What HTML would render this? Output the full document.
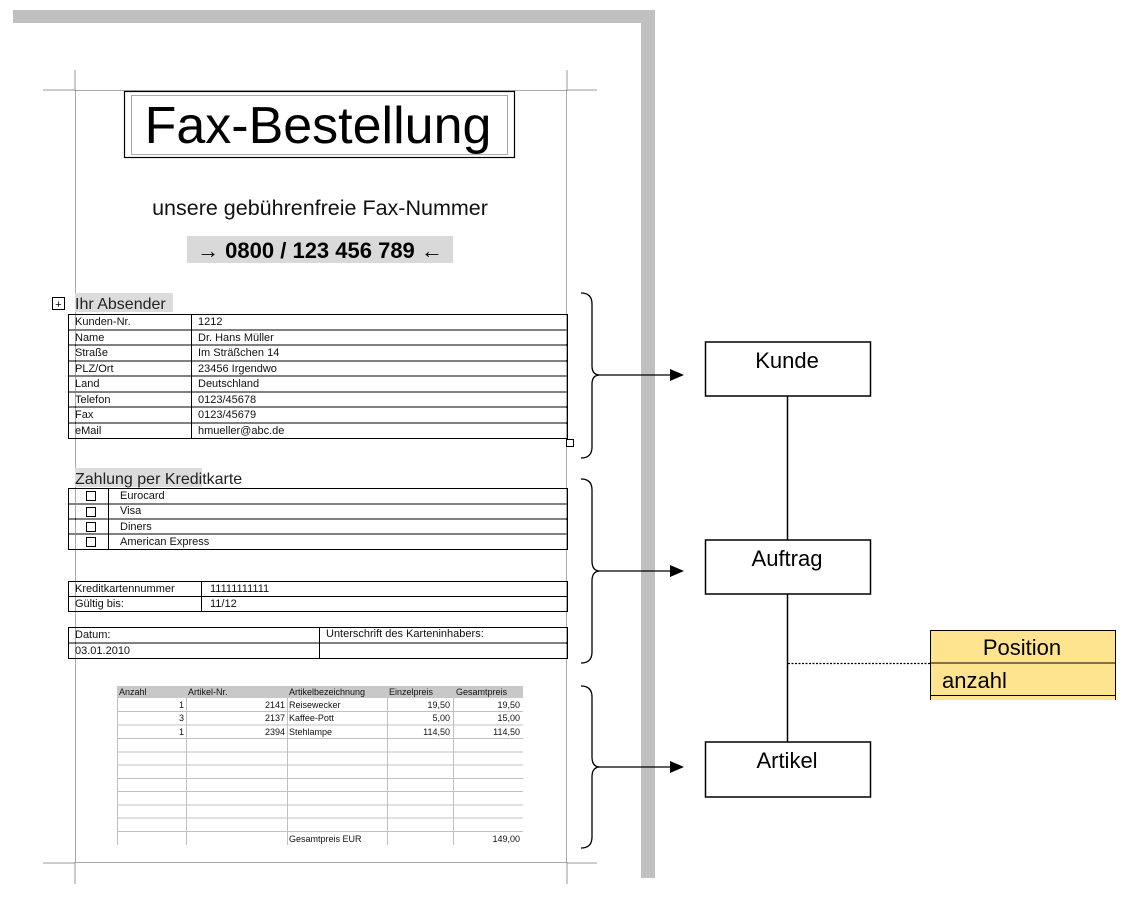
<!DOCTYPE html>
<html><head><meta charset="utf-8"><style>
html,body{margin:0;padding:0;background:#fff;}
svg{display:block;font-family:"Liberation Sans",Arial,sans-serif;}
</style></head><body>
<svg width="1134" height="900" viewBox="0 0 1134 900" xmlns="http://www.w3.org/2000/svg">
<rect x="13" y="10" width="642" height="13" fill="#c0c0c0"/>
<rect x="641" y="10" width="14" height="868" fill="#c0c0c0"/>
<g stroke="#999" stroke-width="1">
<line x1="75" y1="70" x2="75" y2="91"/><line x1="43" y1="90" x2="75" y2="90"/>
<line x1="567" y1="70" x2="567" y2="91"/><line x1="567" y1="90" x2="597" y2="90"/>
<line x1="75" y1="862" x2="75" y2="884"/><line x1="43" y1="863" x2="75" y2="863"/>
<line x1="567" y1="862" x2="567" y2="884"/><line x1="567" y1="863" x2="597" y2="863"/>
</g>
<rect x="75.5" y="90.5" width="491" height="772" fill="none" stroke="#555" stroke-width="1" stroke-dasharray="1,1"/>
<rect x="124.5" y="91.5" width="390" height="66" fill="#fff" stroke="#000" stroke-width="1.2"/>
<rect x="131.5" y="95.5" width="376" height="59" fill="none" stroke="#555" stroke-dasharray="1,1"/>
<text x="318" y="143" font-size="52" text-anchor="middle">Fax-Bestellung</text>
<text x="320" y="215" font-size="21.5" text-anchor="middle" fill="#111">unsere gebührenfreie Fax-Nummer</text>
<rect x="187" y="236" width="266" height="27" fill="#d9d9d9"/>
<text x="320" y="258" font-size="22" font-weight="bold" text-anchor="middle">→ 0800 / 123 456 789 ←</text>
<rect x="52.5" y="297.5" width="12" height="12" fill="#fff" stroke="#000"/>
<text x="58.5" y="308" font-size="11" text-anchor="middle">+</text>
<rect x="75" y="293" width="98" height="19" fill="#dcdcdc"/>
<text x="75" y="309" font-size="16" fill="#222">Ihr Absender</text>
<g stroke="#000" stroke-width="1" fill="none">
<rect x="68.5" y="314.5" width="499" height="124"/>
<line x1="68" y1="330" x2="568" y2="330"/><line x1="68" y1="345" x2="568" y2="345"/>
<line x1="68" y1="361" x2="568" y2="361"/><line x1="68" y1="376" x2="568" y2="376"/>
<line x1="68" y1="392" x2="568" y2="392"/><line x1="68" y1="407" x2="568" y2="407"/>
<line x1="68" y1="423" x2="568" y2="423"/>
<line x1="191.5" y1="314" x2="191.5" y2="438"/>
</g>
<g font-size="11" fill="#111">
<text x="75" y="325">Kunden-Nr.</text><text x="198" y="325">1212</text>
<text x="75" y="341">Name</text><text x="198" y="341">Dr. Hans Müller</text>
<text x="75" y="356">Straße</text><text x="198" y="356">Im Sträßchen 14</text>
<text x="75" y="372">PLZ/Ort</text><text x="198" y="372">23456 Irgendwo</text>
<text x="75" y="387">Land</text><text x="198" y="387">Deutschland</text>
<text x="75" y="403">Telefon</text><text x="198" y="403">0123/45678</text>
<text x="75" y="418">Fax</text><text x="198" y="418">0123/45679</text>
<text x="75" y="434">eMail</text><text x="198" y="434">hmueller@abc.de</text>
</g>
<rect x="566.5" y="439.5" width="7" height="7" fill="#fff" stroke="#000"/>
<rect x="75" y="468" width="127" height="19" fill="#dcdcdc"/>
<text x="75" y="484" font-size="16" fill="#222">Zahlung per Kreditkarte</text>
<g stroke="#000" stroke-width="1" fill="none">
<rect x="68.5" y="488.5" width="499" height="61"/>
<line x1="68" y1="504" x2="568" y2="504"/><line x1="68" y1="519" x2="568" y2="519"/>
<line x1="68" y1="534" x2="568" y2="534"/>
<line x1="108.5" y1="488" x2="108.5" y2="549"/>
<rect x="86.5" y="491.5" width="9" height="9"/><rect x="86.5" y="507.5" width="9" height="9"/>
<rect x="86.5" y="522.5" width="9" height="9"/><rect x="86.5" y="537.5" width="9" height="9"/>
<rect x="68.5" y="581.5" width="499" height="30"/><line x1="68" y1="596.5" x2="568" y2="596.5"/>
<line x1="201.5" y1="581" x2="201.5" y2="611"/>
<rect x="68.5" y="627.5" width="499" height="31"/><line x1="68" y1="643" x2="568" y2="643"/>
<line x1="319.5" y1="627" x2="319.5" y2="658"/>
</g>
<g font-size="11" fill="#111">
<text x="120" y="499">Eurocard</text><text x="120" y="514">Visa</text>
<text x="120" y="530">Diners</text><text x="120" y="545">American Express</text>
<text x="75" y="592">Kreditkartennummer</text><text x="210" y="592">11111111111</text>
<text x="75" y="607">Gültig bis:</text><text x="210" y="607">11/12</text>
<text x="75" y="638">Datum:</text><text x="326" y="637">Unterschrift des Karteninhabers:</text>
<text x="75" y="654">03.01.2010</text>
</g>
<rect x="117" y="686" width="406" height="12" fill="#c8c8c8"/>
<g stroke="#c0c0c0" stroke-width="1">
<line x1="117" y1="711.5" x2="523" y2="711.5"/><line x1="117" y1="725" x2="523" y2="725"/>
<line x1="117" y1="738.5" x2="523" y2="738.5"/><line x1="117" y1="752" x2="523" y2="752"/>
<line x1="117" y1="765" x2="523" y2="765"/><line x1="117" y1="778.5" x2="523" y2="778.5"/>
<line x1="117" y1="791.5" x2="523" y2="791.5"/><line x1="117" y1="805" x2="523" y2="805"/>
<line x1="117" y1="818" x2="523" y2="818"/><line x1="117" y1="831.5" x2="523" y2="831.5"/>
<line x1="117.5" y1="698" x2="117.5" y2="845"/><line x1="186.5" y1="698" x2="186.5" y2="845"/>
<line x1="287.5" y1="698" x2="287.5" y2="845"/><line x1="387.5" y1="698" x2="387.5" y2="845"/>
<line x1="453.5" y1="698" x2="453.5" y2="845"/>
</g>
<g font-size="9" fill="#111">
<text x="119" y="695">Anzahl</text><text x="188" y="695">Artikel-Nr.</text><text x="289" y="695">Artikelbezeichnung</text>
<text x="389" y="695">Einzelpreis</text><text x="456" y="695">Gesamtpreis</text>
<g text-anchor="end">
<text x="184" y="708">1</text><text x="285" y="708">2141</text><text x="450" y="708">19,50</text><text x="520" y="708">19,50</text>
<text x="184" y="721">3</text><text x="285" y="721">2137</text><text x="450" y="721">5,00</text><text x="520" y="721">15,00</text>
<text x="184" y="735">1</text><text x="285" y="735">2394</text><text x="450" y="735">114,50</text><text x="520" y="735">114,50</text>
<text x="520" y="842">149,00</text>
</g>
<text x="289" y="708">Reisewecker</text><text x="289" y="721">Kaffee-Pott</text><text x="289" y="735">Stehlampe</text>
<text x="289" y="842">Gesamtpreis EUR</text>
</g>
<g stroke="#000" stroke-width="1.3" fill="none">
<path d="M581,293 Q592,293 592,304 L592,366 Q592,375 600,375 Q592,375 592,384 L592,447 Q592,458 581,458"/>
<path d="M581,479 Q592,479 592,490 L592,561 Q592,571 600,571 Q592,571 592,581 L592,652 Q592,663 581,663"/>
<path d="M581,686 Q592,686 592,697 L592,757 Q592,767 600,767 Q592,767 592,777 L592,837 Q592,848 581,848"/>
<line x1="600" y1="375" x2="672" y2="375"/><line x1="600" y1="571" x2="672" y2="571"/><line x1="600" y1="767" x2="672" y2="767"/>
</g>
<g fill="#000">
<polygon points="670,369 684,375 670,381"/><polygon points="670,565 684,571 670,577"/><polygon points="670,761 684,767 670,773"/>
</g>
<g stroke="#000" stroke-width="1.5" fill="#fff">
<line x1="787.5" y1="396" x2="787.5" y2="540"/><line x1="787.5" y1="594" x2="787.5" y2="742"/>
<rect x="705.5" y="342" width="165" height="54"/>
<rect x="705.5" y="540" width="165" height="54"/>
<rect x="705.5" y="742" width="165" height="55"/>
</g>
<line x1="788" y1="663.5" x2="930" y2="663.5" stroke="#000" stroke-width="1.2" stroke-dasharray="2,1.5"/>
<g font-size="22" text-anchor="middle" fill="#000">
<text x="787" y="368">Kunde</text><text x="787" y="566">Auftrag</text><text x="787" y="768">Artikel</text>
</g>
<rect x="930" y="630" width="185" height="70" fill="#ffe490"/>
<g stroke="#000" stroke-width="1" fill="none">
<path d="M930.5,700 L930.5,630.5 L1115.5,630.5 L1115.5,700"/>
<line x1="930" y1="663" x2="1116" y2="663"/><line x1="930" y1="695.5" x2="1116" y2="695.5"/>
</g>
<text x="1022" y="655" font-size="22" text-anchor="middle">Position</text>
<text x="942" y="688" font-size="22">anzahl</text>
</svg>
</body></html>
